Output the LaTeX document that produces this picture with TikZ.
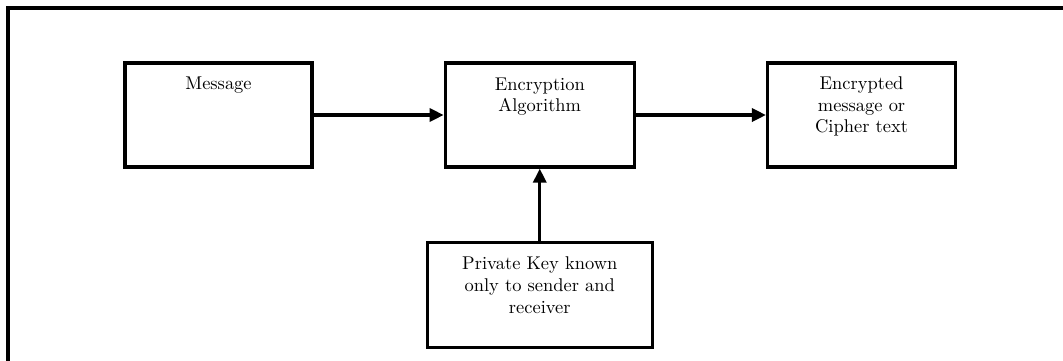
\documentclass[tikz,border=0pt]{standalone}
\usetikzlibrary{positioning,arrows.meta}

\tikzset{
  blk/.style={draw,line width=1.9pt,minimum width=#1,minimum height=2.08cm,inner sep=0pt},
  blk/.default=3.76cm,
  lbl/.style={align=center,inner sep=0pt,font=\fontsize{10.5}{12.3}\selectfont},
  arr/.style={-{Triangle[length=8pt,width=7.5pt]},line width=1.8pt}
}

\begin{document}
\begin{tikzpicture}[x=0.02cm,y=-0.02cm]
  \useasboundingbox[fill=white] (0,0) rectangle (1063,360);
  % frame runs off the page on the right and bottom
  \draw[line width=1.8pt] (8,380) -- (8,8) -- (1080,8);

  \node[blk=3.74cm] (msg) at (218.5,115) {};
  \node[blk=3.78cm,right=2.6cm of msg] (enc) {};
  \node[blk=3.76cm,right=2.6cm of enc] (ciph) {};
  \node[blk=4.5cm,minimum height=2.1cm,below=1.44cm of enc] (key) {};

  % texts sit at the top of each box
  \node[lbl,below=0.3cm of msg.north] (msgtxt) {Message};
  \node[lbl,below=0.32cm of enc.north] (enctxt) {Encryption\\Algorithm};
  \node[lbl,below=0.3cm of ciph.north] (ciphtxt) {Encrypted\\message or\\Cipher text};
  \node[lbl,below=0.32cm of key.north] (keytxt) {Private Key known\\only to sender and\\receiver};

  \draw[arr] (msg) -- (enc);
  \draw[arr] (enc) -- (ciph);
  \draw[arr] (key) -- (enc);
\end{tikzpicture}
\end{document}
